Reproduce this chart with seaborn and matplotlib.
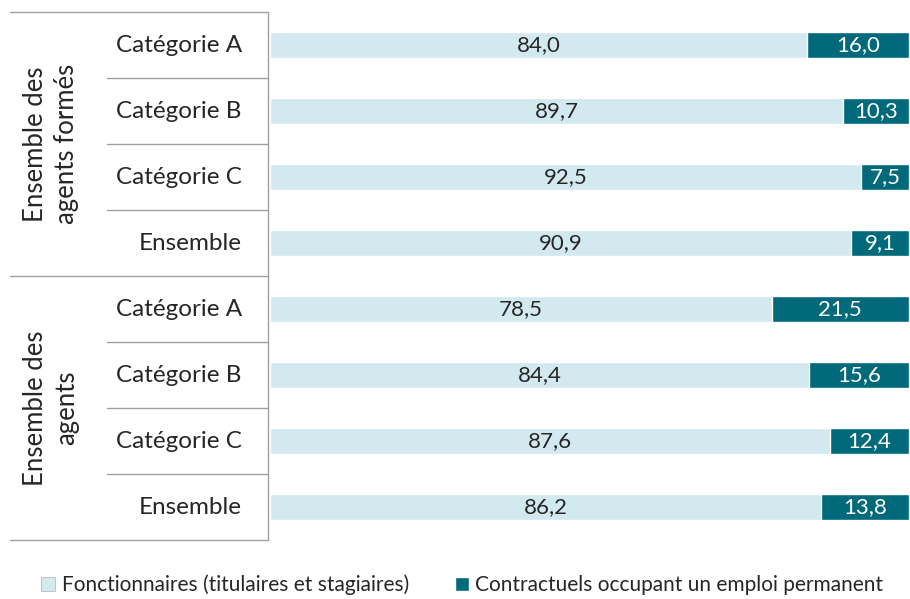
import numpy as np
import pandas as pd
import seaborn as sns
from matplotlib import pyplot as plt
from matplotlib.patches import Patch
import matplotlib.transforms as mtransforms

groupes = ["Ensemble des\nagents formés", "Ensemble des\nagents"]
categories = ["Catégorie A", "Catégorie B", "Catégorie C", "Ensemble"]
fonctionnaires = [84.0, 89.7, 92.5, 90.9, 78.5, 84.4, 87.6, 86.2]
contractuels = [16.0, 10.3, 7.5, 9.1, 21.5, 15.6, 12.4, 13.8]
legende = ["Fonctionnaires (titulaires et stagiaires)",
           "Contractuels occupant un emploi permanent"]

col_fonct = "#D3E9F0"
col_contr = "#00697A"
col_ligne = "#A0A0A0"

sns.set_theme(style="white")
plt.rcParams['font.family'] = ['Lato', 'DejaVu Sans']

lignes = [g.replace("\n", " ") + " - " + c for g in groupes for c in categories]
df = pd.DataFrame({"ligne": lignes,
                   "fonct": fonctionnaires,
                   "contr": contractuels})
df["total"] = df["fonct"] + df["contr"]

fig = plt.figure(figsize=(9.10, 5.99), dpi=100)
ax = fig.add_axes([270 / 910, 1 - 540 / 599, 639 / 910, 528 / 599])

sns.barplot(data=df, y="ligne", x="total", color=col_contr, orient="h",
            width=0.4, saturation=1, ax=ax)
sns.barplot(data=df, y="ligne", x="fonct", color=col_fonct, orient="h",
            width=0.4, saturation=1, ax=ax)

ax.set_xlim(0, 100)
ax.set_ylim(7.5, -0.5)
ax.set_xlabel("")
ax.set_ylabel("")
ax.set_xticks([])
ax.set_yticks([])
for s in ax.spines.values():
    s.set_visible(False)

fmt = lambda v: f"{v:.1f}".replace(".", ",")
for i, (f, c) in enumerate(zip(fonctionnaires, contractuels)):
    ax.text(f / 2, i, fmt(f), ha="center", va="center", fontsize=16, color="#262626")
    ax.text(f + c / 2, i, fmt(c), ha="center", va="center", fontsize=16, color="white")

# tableau des libellés à gauche
tr = mtransforms.blended_transform_factory(ax.transAxes, ax.transData)
x_g = (10 - 270) / 639
x_s = (107 - 270) / 639
x_v = (268 - 270) / 639
for y in [-0.5, 3.5, 7.5]:
    ax.plot([x_g, x_v], [y, y], transform=tr, color=col_ligne, lw=1, clip_on=False)
for y in [0.5, 1.5, 2.5, 4.5, 5.5, 6.5]:
    ax.plot([x_s, x_v], [y, y], transform=tr, color=col_ligne, lw=1, clip_on=False)
ax.plot([x_v, x_v], [-0.5, 7.5], transform=tr, color=col_ligne, lw=1, clip_on=False)

for i, lab in enumerate(lignes):
    ax.text((242 - 270) / 639, i, categories[i % 4], transform=tr,
            ha="right", va="center", fontsize=17.5, color="#262626")
for k, g in enumerate(groupes):
    ax.text((51 - 270) / 639, 1.5 + 4 * k, g, transform=tr, rotation=90,
            ha="center", va="center", fontsize=18.5, color="#262626",
            multialignment="center", linespacing=1.3)

handles = [Patch(facecolor=col_fonct, edgecolor="#B0B0B0", lw=0.5),
           Patch(facecolor=col_contr)]
fig.legend(handles, legende, loc="lower left", bbox_to_anchor=(22 / 910, -0.025),
           ncol=2, frameon=False, fontsize=15, handlelength=0.7, handleheight=0.7,
           handletextpad=0.3, columnspacing=2.2)

plt.savefig("out.png", dpi=100)
